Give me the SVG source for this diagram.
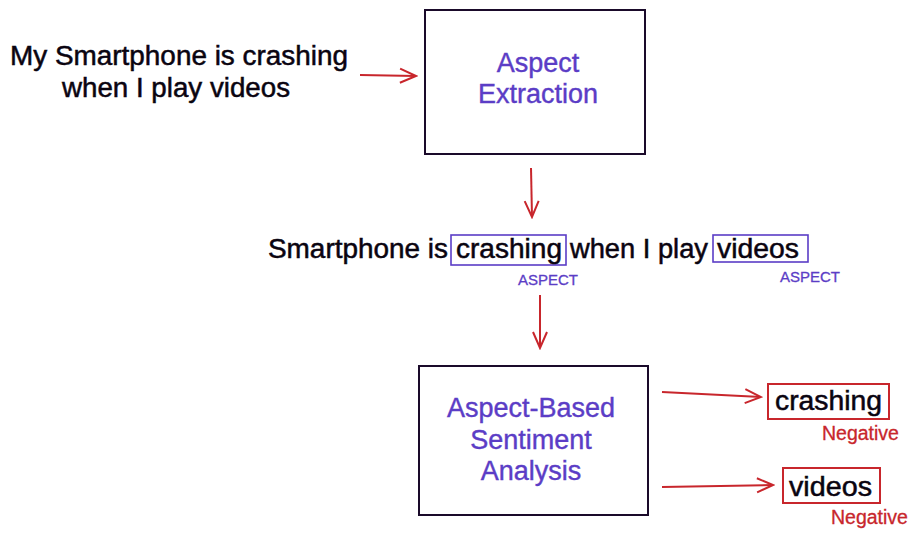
<svg xmlns="http://www.w3.org/2000/svg" width="920" height="539" viewBox="0 0 920 539">
<style>
text{font-family:"Liberation Sans",Arial,sans-serif}
.blk{fill:#0a0410;stroke:#0a0410;stroke-width:0.5;font-size:27px}
.pur{fill:#5b3dc6;stroke:#5b3dc6;stroke-width:0.4;font-size:27px}
.asp{fill:#5b3dc6;stroke:#5b3dc6;stroke-width:0.3;font-size:15px}
.neg{fill:#c8262c;stroke:#c8262c;stroke-width:0.3;font-size:19.5px}
.node{fill:#fff;stroke:#1a0a2a;stroke-width:2}
.conn{stroke:#c8262c;stroke-width:2;fill:none}
.pbox{fill:none;stroke:#5b3dc6;stroke-width:1.6}
.rbox{fill:none;stroke:#c8262c;stroke-width:2}
</style>
<defs>
<marker id="chev" viewBox="0 0 20 20" refX="18" refY="10" markerWidth="20" markerHeight="20" markerUnits="userSpaceOnUse" orient="auto">
<path d="M2,3 L18,10 L2,17" fill="none" stroke="#c8262c" stroke-width="2"/>
</marker>
</defs>
<rect width="920" height="539" fill="#fff"/>
<g id="input">
<text class="blk" x="10" y="65" textLength="338" lengthAdjust="spacingAndGlyphs">My Smartphone is crashing</text>
<text class="blk" x="62" y="97" textLength="228" lengthAdjust="spacingAndGlyphs">when I play videos</text>
</g>
<g id="aspect-extraction">
<rect class="node" x="425" y="10" width="220" height="144"/>
<text class="pur" x="538" y="72" text-anchor="middle">Aspect</text>
<text class="pur" x="538" y="103" text-anchor="middle">Extraction</text>
</g>
<g id="sentence">
<text class="blk" x="268" y="258" textLength="180" lengthAdjust="spacingAndGlyphs">Smartphone is</text>
<rect class="pbox" x="451" y="235" width="115" height="30"/>
<text class="blk" x="456" y="258" textLength="106" lengthAdjust="spacingAndGlyphs">crashing</text>
<text class="blk" x="570" y="258" textLength="138" lengthAdjust="spacingAndGlyphs">when I play</text>
<rect class="pbox" x="713" y="235" width="95" height="27"/>
<text class="blk" x="717" y="258" textLength="82" lengthAdjust="spacingAndGlyphs">videos</text>
<text class="asp" x="548" y="285" text-anchor="middle">ASPECT</text>
<text class="asp" x="810" y="282" text-anchor="middle">ASPECT</text>
</g>
<g id="absa">
<rect class="node" x="419" y="366" width="229" height="149"/>
<text class="pur" x="531" y="417" text-anchor="middle">Aspect-Based</text>
<text class="pur" x="531" y="449" text-anchor="middle">Sentiment</text>
<text class="pur" x="531" y="480" text-anchor="middle">Analysis</text>
</g>
<g id="out-crashing">
<rect class="rbox" x="768" y="384" width="121" height="35"/>
<text class="blk" x="775" y="410" textLength="107" lengthAdjust="spacingAndGlyphs">crashing</text>
<text class="neg" x="822" y="440">Negative</text>
</g>
<g id="out-videos">
<rect class="rbox" x="783" y="468" width="97" height="35"/>
<text class="blk" x="789" y="496" textLength="83" lengthAdjust="spacingAndGlyphs">videos</text>
<text class="neg" x="831" y="524">Negative</text>
</g>
<g id="connectors">
<line class="conn" x1="360" y1="75" x2="416" y2="76" marker-end="url(#chev)"/>
<line class="conn" x1="531" y1="168" x2="532" y2="217" marker-end="url(#chev)"/>
<line class="conn" x1="540" y1="295" x2="540" y2="348" marker-end="url(#chev)"/>
<line class="conn" x1="662" y1="392" x2="761" y2="397" marker-end="url(#chev)"/>
<line class="conn" x1="662" y1="487" x2="773" y2="485" marker-end="url(#chev)"/>
</g>
</svg>
